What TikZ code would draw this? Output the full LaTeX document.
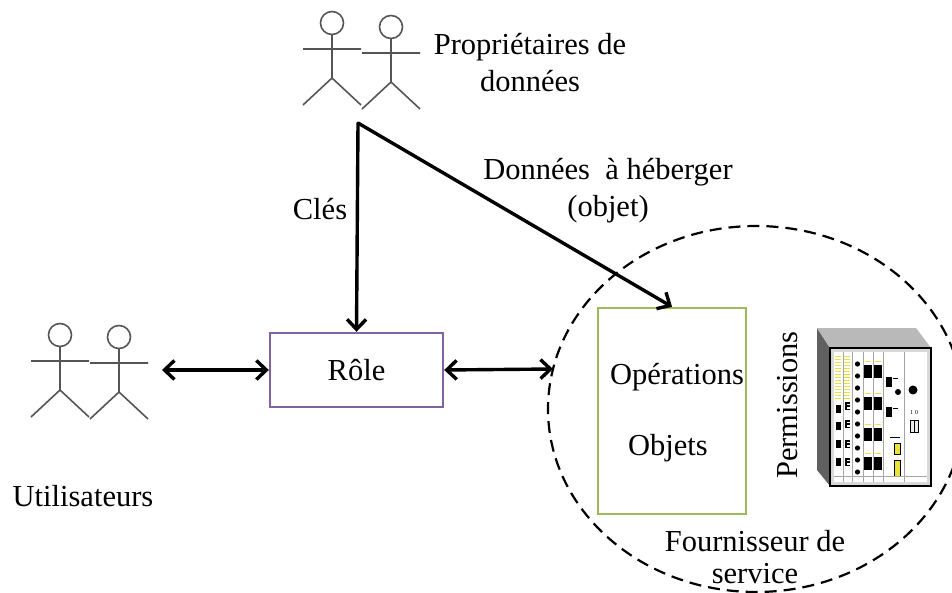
\documentclass[tikz,border=0pt]{standalone}
\usepackage{fontspec}
\setmainfont{Liberation Serif}
\usetikzlibrary{arrows.meta,shapes.geometric}
\definecolor{rolepurple}{RGB}{128,100,162}
\definecolor{objgreen}{RGB}{155,187,89}
\definecolor{figgray}{RGB}{85,85,85}
\definecolor{rackyellow}{RGB}{235,225,60}
\begin{document}
\begin{tikzpicture}[x=1pt,y=-1pt,
  every node/.style={font=\fontsize{30.5}{37}\selectfont},
  txt/.style={align=center, inner sep=0pt},
  flow/.style={line width=3.4pt, -{Straight Barb[length=10pt,width=19pt]}},
  twoway/.style={line width=3.4pt, {Straight Barb[length=10pt,width=19pt]}-{Straight Barb[length=10pt,width=19pt]}},
  stickman/.pic={
    \draw[figgray, line width=1.6pt] (0,0) circle[radius=11.5]
      (0,11.5) -- (0,55) (-29,26) -- (29,26) (-29,82) -- (0,55) -- (29,82);
  }]
\useasboundingbox[fill=white] (0,0) rectangle (952,593);

% actors
\pic at (332,23) {stickman};
\pic at (391,27) {stickman};
\pic at (60,335) {stickman};
\pic at (119,337) {stickman};

% service provider zone
\node[draw, dash pattern=on 12pt off 7pt, line width=2.2pt, ellipse,
      minimum width=416, minimum height=366, inner sep=0pt] (prov) at (756,409) {};

% boxes
\node[draw=rolepurple, line width=2.4pt, minimum width=173, minimum height=74, inner sep=0pt]
  (role) at (356.5,370) {Rôle};
\node[draw=objgreen, line width=2.4pt, minimum width=148, minimum height=206, inner sep=0pt]
  (box) at (672,411) {};
\node[txt] (ops) at (677,377) {Opérations};
\node[txt] (objs) at (668,448) {Objets};

% texts
\node[txt] (owners) at (530,63) {Propriétaires de\\données};
\node[txt] (keys) at (320,209) {Clés};
\node[txt] (data) at (608,191) {Données\ \ à héberger\\(objet)};
\node[txt] (users) at (83,496) {Utilisateurs};
\node[txt, rotate=90] (perm) at (788,405) {Permissions};
\node[txt, font=\fontsize{30.5}{32}\selectfont] (provider) at (755,557) {Fournisseur de\\service};

% connectors
\coordinate (k) at (358,123);
\coordinate (usr) at (162,370);
\coordinate (pin) at (553,369);
\draw[flow] (k) -- (role.north);
\draw[flow] (k) -- (box.north);
\fill (k) circle[radius=1.7];
\draw[twoway] (usr) -- (role.west);
\draw[twoway] (role.east) -- (pin);

% equipment rack
\fill[gray!75!black] (817,328) -- (830,348) -- (830,486) -- (817,470) -- cycle;
\fill[gray!55] (817,328) -- (916,328) -- (931,348) -- (830,348) -- cycle;
\draw[fill=gray!30, line width=1.2pt] (830,348) rectangle (931,486);
\fill[white] (834,352) rectangle (927,482);
\foreach \c in {843,852,863,873,883,904}
  \draw[gray!70, line width=0.9pt] (\c,352) -- (\c,482);
% left slot cards
\foreach \yy in {356,359,...,398} {
  \draw[rackyellow, line width=0.9pt] (835,\yy) -- (841,\yy);
  \draw[rackyellow, line width=0.9pt] (844,\yy) -- (850,\yy);
}
\foreach \yy in {405,422,440,458}
  \fill (836,\yy) rectangle (841,\yy+8);
\foreach \yy in {402,420,440,458} {
  \fill (845,\yy) rectangle (847,\yy+8);
  \fill (847,\yy) rectangle (850,\yy+1.5);
  \fill (847,\yy+3.2) rectangle (850,\yy+4.7);
  \fill (847,\yy+6.5) rectangle (850,\yy+8);
}
\foreach \yy in {364,376,...,472}
  \fill (857.5,\yy) circle[radius=2.6];
% port blocks
\foreach \yy in {365,397,428,457} {
  \fill (864,\yy) rectangle (872,\yy+13);
  \fill (874,\yy) rectangle (882,\yy+13);
  \draw[rackyellow, line width=0.9pt] (865,\yy-4) -- (871,\yy-4) (875,\yy-4) -- (881,\yy-4);
}
% control card
\fill (886,377) rectangle (892,387);
\fill (886,407) rectangle (892,417);
\fill (898,392) circle[radius=3];
\draw[line width=0.6pt] (893,378) -- (898,378) (893,408) -- (898,408) (890,437) -- (900,437);
\draw[fill=rackyellow, line width=0.6pt] (894,443) rectangle (900,454);
\draw[fill=rackyellow, line width=0.6pt] (894,460) rectangle (900,476);
% power panel
\fill (913,390) circle[radius=4.5];
\node[font=\fontsize{6}{6}\selectfont, inner sep=0pt] (onoff) at (914,413) {1\,\,0};
\draw[line width=0.7pt, fill=gray!15] (910,420) rectangle (918,432);
\draw[line width=0.6pt] (914,420) -- (914,432);
\draw[gray!70, line width=0.6pt] (834,476) -- (927,476);
\end{tikzpicture}
\end{document}
